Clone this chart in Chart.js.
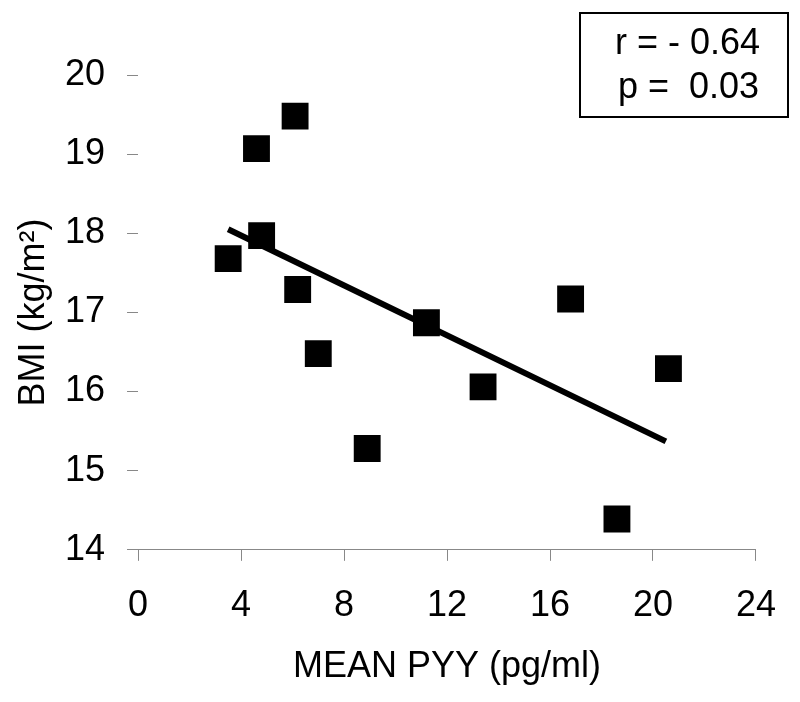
<!DOCTYPE html>
<html>
<head>
<meta charset="utf-8">
<script src="https://cdn.jsdelivr.net/npm/chart.js@4/dist/chart.umd.min.js"></script>
<style>
  html, body { margin: 0; padding: 0; background: #fff; }
  #wrap { width: 800px; height: 702px; }
</style>
</head>
<body>
<div id="wrap"><canvas id="grafico" width="800" height="702"></canvas></div>
<script>
// valores
const pyy = [3.5, 4.6, 4.8, 6.1, 6.2, 7.0, 8.9, 11.2, 13.4, 16.8, 18.6, 20.6];
const bmi = [17.68, 19.07, 17.97, 19.48, 17.29, 16.48, 15.28, 16.87, 16.06, 17.17, 14.39, 16.29];
const linhaX = [3.5, 20.5];
const linhaY = [18.05, 15.37];
const textoCaixa = ['r = - 0.64', 'p =  0.03'];

const fonte = 'Arial, "Liberation Sans", sans-serif';

// caixa com r e p
const caixaPlugin = {
    id: 'caixa',
    afterDraw(chart) {
        const ctx = chart.ctx;
        ctx.save();
        ctx.strokeStyle = '#000';
        ctx.lineWidth = 2;
        ctx.strokeRect(580, 13, 208, 104);
        ctx.fillStyle = '#000';
        ctx.font = '36px ' + fonte;
        ctx.textAlign = 'right';
        ctx.textBaseline = 'middle';
        ctx.fillText(textoCaixa[0], 760, 44);
        ctx.fillText(textoCaixa[1], 759, 88);
        ctx.restore();
    }
};

new Chart(document.getElementById('grafico'), {
    type: 'scatter',
    data: {
        datasets: [{
            data: pyy.map((x, i) => ({ x: x, y: bmi[i] })),
            pointStyle: 'rect',
            pointRadius: 19,
            pointHoverRadius: 19,
            backgroundColor: '#000',
            borderColor: '#000',
            borderWidth: 0
        }, {
            type: 'line',
            data: linhaX.map((x, i) => ({ x: x, y: linhaY[i] })),
            borderColor: '#000',
            borderWidth: 6,
            pointRadius: 0,
            fill: false
        }]
    },
    options: {
        responsive: false,
        animation: false,
        layout: { padding: { top: 75, right: 17, left: 25, bottom: 19 } },
        plugins: {
            legend: { display: false },
            tooltip: { enabled: false }
        },
        scales: {
            x: {
                type: 'linear',
                min: 0,
                max: 24,
                ticks: { stepSize: 4, color: '#000', font: { family: fonte, size: 36 }, padding: 24 },
                grid: { drawOnChartArea: false, tickLength: 11, color: '#888' },
                border: { display: true, color: '#888', width: 1 },
                title: { display: true, text: 'MEAN PYY (pg/ml)', color: '#000', font: { family: fonte, size: 36, lineHeight: 0.86 }, padding: { top: 0, bottom: 0 } }
            },
            y: {
                min: 14,
                max: 20,
                ticks: { stepSize: 1, color: '#000', font: { family: fonte, size: 36 }, padding: 22 },
                grid: { drawOnChartArea: false, tickLength: 11, color: '#888' },
                border: { display: false },
                title: { display: true, text: 'BMI (kg/m²)', color: '#000', font: { family: fonte, size: 36, lineHeight: 0.5 }, padding: { top: 0, bottom: 0 } }
            }
        }
    },
    plugins: [caixaPlugin]
});
</script>
</body>
</html>
